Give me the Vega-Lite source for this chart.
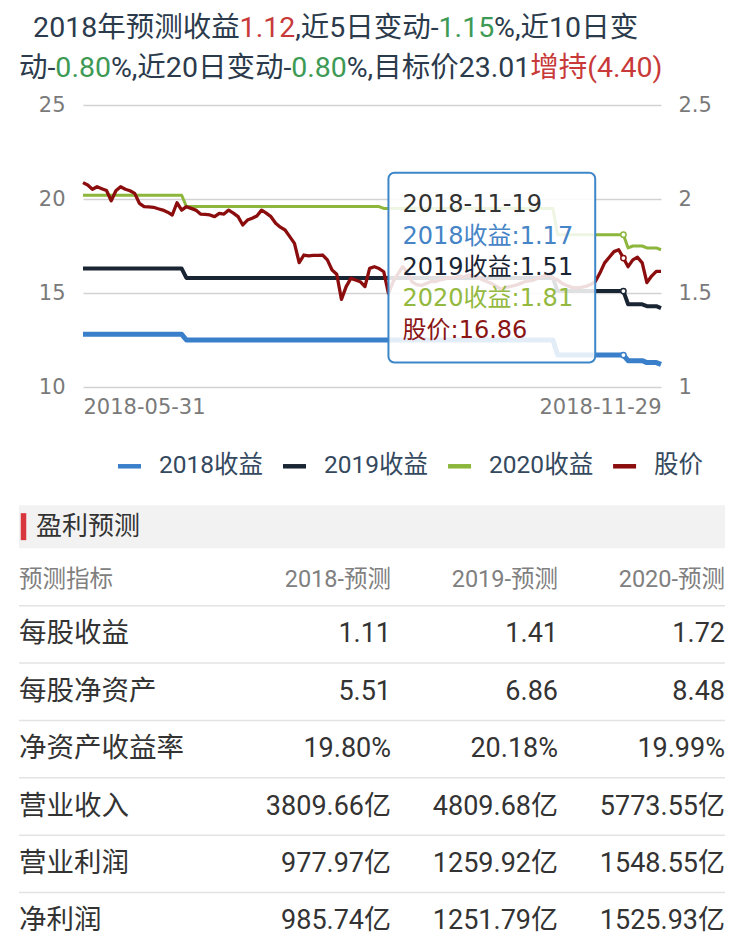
{
  "$schema": "https://vega.github.io/schema/vega-lite/v6.json",
  "background": "white",
  "padding": {"left": 18, "top": 0, "right": 0, "bottom": 0},
  "autosize": {"type": "pad"},
  "config": {
    "view": {"stroke": null},
    "axis": {"labelFont": "DejaVu Sans", "labelFontSize": 21, "labelColor": "#7a7a7a", "domain": false, "ticks": false, "tickSize": 0, "title": null}
  },
  "datasets": {
    "series": [
      {"d":"2018-05-31","股价":20.87,"2018收益":1.28,"2019收益":1.63,"2020收益":2.02},
      {"d":"2018-06-01","股价":20.74,"2018收益":1.28,"2019收益":1.63,"2020收益":2.02},
      {"d":"2018-06-04","股价":20.52,"2018收益":1.28,"2019收益":1.63,"2020收益":2.02},
      {"d":"2018-06-05","股价":20.65,"2018收益":1.28,"2019收益":1.63,"2020收益":2.02},
      {"d":"2018-06-06","股价":20.55,"2018收益":1.28,"2019收益":1.63,"2020收益":2.02},
      {"d":"2018-06-07","股价":20.45,"2018收益":1.28,"2019收益":1.63,"2020收益":2.02},
      {"d":"2018-06-08","股价":19.91,"2018收益":1.28,"2019收益":1.63,"2020收益":2.02},
      {"d":"2018-06-11","股价":20.44,"2018收益":1.28,"2019收益":1.63,"2020收益":2.02},
      {"d":"2018-06-12","股价":20.65,"2018收益":1.28,"2019收益":1.63,"2020收益":2.02},
      {"d":"2018-06-13","股价":20.52,"2018收益":1.28,"2019收益":1.63,"2020收益":2.02},
      {"d":"2018-06-14","股价":20.44,"2018收益":1.28,"2019收益":1.63,"2020收益":2.02},
      {"d":"2018-06-15","股价":20.30,"2018收益":1.28,"2019收益":1.63,"2020收益":2.02},
      {"d":"2018-06-19","股价":19.77,"2018收益":1.28,"2019收益":1.63,"2020收益":2.02},
      {"d":"2018-06-20","股价":19.59,"2018收益":1.28,"2019收益":1.63,"2020收益":2.02},
      {"d":"2018-06-21","股价":19.58,"2018收益":1.28,"2019收益":1.63,"2020收益":2.02},
      {"d":"2018-06-22","股价":19.56,"2018收益":1.28,"2019收益":1.63,"2020收益":2.02},
      {"d":"2018-06-25","股价":19.48,"2018收益":1.28,"2019收益":1.63,"2020收益":2.02},
      {"d":"2018-06-26","股价":19.41,"2018收益":1.28,"2019收益":1.63,"2020收益":2.02},
      {"d":"2018-06-27","股价":19.30,"2018收益":1.28,"2019收益":1.63,"2020收益":2.02},
      {"d":"2018-06-28","股价":19.15,"2018收益":1.28,"2019收益":1.63,"2020收益":2.02},
      {"d":"2018-06-29","股价":19.80,"2018收益":1.28,"2019收益":1.63,"2020收益":2.02},
      {"d":"2018-07-02","股价":19.41,"2018收益":1.28,"2019收益":1.63,"2020收益":2.02},
      {"d":"2018-07-03","股价":19.59,"2018收益":1.25,"2019收益":1.58,"2020收益":1.96},
      {"d":"2018-07-04","股价":19.50,"2018收益":1.25,"2019收益":1.58,"2020收益":1.96},
      {"d":"2018-07-05","股价":19.41,"2018收益":1.25,"2019收益":1.58,"2020收益":1.96},
      {"d":"2018-07-06","股价":19.20,"2018收益":1.25,"2019收益":1.58,"2020收益":1.96},
      {"d":"2018-07-09","股价":19.18,"2018收益":1.25,"2019收益":1.58,"2020收益":1.96},
      {"d":"2018-07-10","股价":19.15,"2018收益":1.25,"2019收益":1.58,"2020收益":1.96},
      {"d":"2018-07-11","股价":19.06,"2018收益":1.25,"2019收益":1.58,"2020收益":1.96},
      {"d":"2018-07-12","股价":19.24,"2018收益":1.25,"2019收益":1.58,"2020收益":1.96},
      {"d":"2018-07-13","股价":19.20,"2018收益":1.25,"2019收益":1.58,"2020收益":1.96},
      {"d":"2018-07-16","股价":19.41,"2018收益":1.25,"2019收益":1.58,"2020收益":1.96},
      {"d":"2018-07-17","股价":19.25,"2018收益":1.25,"2019收益":1.58,"2020收益":1.96},
      {"d":"2018-07-18","股价":19.06,"2018收益":1.25,"2019收益":1.58,"2020收益":1.96},
      {"d":"2018-07-19","股价":18.62,"2018收益":1.25,"2019收益":1.58,"2020收益":1.96},
      {"d":"2018-07-20","股价":18.88,"2018收益":1.25,"2019收益":1.58,"2020收益":1.96},
      {"d":"2018-07-23","股价":18.98,"2018收益":1.25,"2019收益":1.58,"2020收益":1.96},
      {"d":"2018-07-24","股价":19.10,"2018收益":1.25,"2019收益":1.58,"2020收益":1.96},
      {"d":"2018-07-25","股价":19.41,"2018收益":1.25,"2019收益":1.58,"2020收益":1.96},
      {"d":"2018-07-26","股价":19.25,"2018收益":1.25,"2019收益":1.58,"2020收益":1.96},
      {"d":"2018-07-27","股价":19.06,"2018收益":1.25,"2019收益":1.58,"2020收益":1.96},
      {"d":"2018-07-30","股价":18.71,"2018收益":1.25,"2019收益":1.58,"2020收益":1.96},
      {"d":"2018-07-31","股价":18.50,"2018收益":1.25,"2019收益":1.58,"2020收益":1.96},
      {"d":"2018-08-01","股价":18.35,"2018收益":1.25,"2019收益":1.58,"2020收益":1.96},
      {"d":"2018-08-02","股价":18.00,"2018收益":1.25,"2019收益":1.58,"2020收益":1.96},
      {"d":"2018-08-03","股价":17.64,"2018收益":1.25,"2019收益":1.58,"2020收益":1.96},
      {"d":"2018-08-06","股价":16.62,"2018收益":1.25,"2019收益":1.58,"2020收益":1.96},
      {"d":"2018-08-07","股价":17.02,"2018收益":1.25,"2019收益":1.58,"2020收益":1.96},
      {"d":"2018-08-08","股价":16.97,"2018收益":1.25,"2019收益":1.58,"2020收益":1.96},
      {"d":"2018-08-09","股价":17.00,"2018收益":1.25,"2019收益":1.58,"2020收益":1.96},
      {"d":"2018-08-10","股价":17.00,"2018收益":1.25,"2019收益":1.58,"2020收益":1.96},
      {"d":"2018-08-13","股价":17.02,"2018收益":1.25,"2019收益":1.58,"2020收益":1.96},
      {"d":"2018-08-14","股价":16.76,"2018收益":1.25,"2019收益":1.58,"2020收益":1.96},
      {"d":"2018-08-15","股价":16.22,"2018收益":1.25,"2019收益":1.58,"2020收益":1.96},
      {"d":"2018-08-16","股价":16.00,"2018收益":1.25,"2019收益":1.58,"2020收益":1.96},
      {"d":"2018-08-17","股价":14.66,"2018收益":1.25,"2019收益":1.58,"2020收益":1.96},
      {"d":"2018-08-20","股价":15.34,"2018收益":1.25,"2019收益":1.58,"2020收益":1.96},
      {"d":"2018-08-21","股价":15.78,"2018收益":1.25,"2019收益":1.58,"2020收益":1.96},
      {"d":"2018-08-22","股价":15.69,"2018收益":1.25,"2019收益":1.58,"2020收益":1.96},
      {"d":"2018-08-23","股价":15.60,"2018收益":1.25,"2019收益":1.58,"2020收益":1.96},
      {"d":"2018-08-24","股价":15.34,"2018收益":1.25,"2019收益":1.58,"2020收益":1.96},
      {"d":"2018-08-27","股价":16.31,"2018收益":1.25,"2019收益":1.58,"2020收益":1.96},
      {"d":"2018-08-28","股价":16.40,"2018收益":1.25,"2019收益":1.58,"2020收益":1.96},
      {"d":"2018-08-29","股价":16.30,"2018收益":1.25,"2019收益":1.58,"2020收益":1.96},
      {"d":"2018-08-30","股价":16.13,"2018收益":1.25,"2019收益":1.58,"2020收益":1.95},
      {"d":"2018-08-31","股价":14.98,"2018收益":1.25,"2019收益":1.58,"2020收益":1.95},
      {"d":"2018-09-03","股价":15.60,"2018收益":1.25,"2019收益":1.58,"2020收益":1.95},
      {"d":"2018-09-04","股价":16.00,"2018收益":1.25,"2019收益":1.58,"2020收益":1.95},
      {"d":"2018-09-05","股价":16.40,"2018收益":1.25,"2019收益":1.58,"2020收益":1.95},
      {"d":"2018-09-06","股价":16.10,"2018收益":1.25,"2019收益":1.58,"2020收益":1.95},
      {"d":"2018-09-07","股价":15.60,"2018收益":1.25,"2019收益":1.58,"2020收益":1.95},
      {"d":"2018-09-10","股价":15.45,"2018收益":1.25,"2019收益":1.58,"2020收益":1.95},
      {"d":"2018-09-11","股价":15.40,"2018收益":1.25,"2019收益":1.58,"2020收益":1.95},
      {"d":"2018-09-12","股价":15.50,"2018收益":1.25,"2019收益":1.58,"2020收益":1.95},
      {"d":"2018-09-13","股价":15.60,"2018收益":1.25,"2019收益":1.58,"2020收益":1.95},
      {"d":"2018-09-14","股价":15.60,"2018收益":1.25,"2019收益":1.58,"2020收益":1.95},
      {"d":"2018-09-17","股价":15.70,"2018收益":1.25,"2019收益":1.58,"2020收益":1.95},
      {"d":"2018-09-18","股价":15.75,"2018收益":1.25,"2019收益":1.58,"2020收益":1.95},
      {"d":"2018-09-19","股价":15.80,"2018收益":1.25,"2019收益":1.58,"2020收益":1.95},
      {"d":"2018-09-20","股价":15.80,"2018收益":1.25,"2019收益":1.58,"2020收益":1.95},
      {"d":"2018-09-21","股价":15.90,"2018收益":1.25,"2019收益":1.58,"2020收益":1.95},
      {"d":"2018-09-25","股价":15.85,"2018收益":1.25,"2019收益":1.58,"2020收益":1.95},
      {"d":"2018-09-26","股价":15.95,"2018收益":1.25,"2019收益":1.58,"2020收益":1.95},
      {"d":"2018-09-27","股价":15.90,"2018收益":1.25,"2019收益":1.58,"2020收益":1.95},
      {"d":"2018-09-28","股价":15.85,"2018收益":1.25,"2019收益":1.58,"2020收益":1.95},
      {"d":"2018-10-08","股价":15.70,"2018收益":1.25,"2019收益":1.58,"2020收益":1.95},
      {"d":"2018-10-09","股价":15.60,"2018收益":1.25,"2019收益":1.58,"2020收益":1.95},
      {"d":"2018-10-10","股价":15.50,"2018收益":1.25,"2019收益":1.58,"2020收益":1.95},
      {"d":"2018-10-11","股价":15.35,"2018收益":1.25,"2019收益":1.58,"2020收益":1.95},
      {"d":"2018-10-12","股价":15.20,"2018收益":1.25,"2019收益":1.58,"2020收益":1.95},
      {"d":"2018-10-15","股价":15.30,"2018收益":1.25,"2019收益":1.58,"2020收益":1.95},
      {"d":"2018-10-16","股价":15.35,"2018收益":1.25,"2019收益":1.58,"2020收益":1.95},
      {"d":"2018-10-17","股价":15.40,"2018收益":1.25,"2019收益":1.58,"2020收益":1.95},
      {"d":"2018-10-18","股价":15.50,"2018收益":1.25,"2019收益":1.58,"2020收益":1.95},
      {"d":"2018-10-19","股价":15.60,"2018收益":1.25,"2019收益":1.58,"2020收益":1.95},
      {"d":"2018-10-22","股价":15.65,"2018收益":1.25,"2019收益":1.58,"2020收益":1.95},
      {"d":"2018-10-23","股价":15.70,"2018收益":1.25,"2019收益":1.58,"2020收益":1.95},
      {"d":"2018-10-24","股价":15.80,"2018收益":1.25,"2019收益":1.58,"2020收益":1.95},
      {"d":"2018-10-25","股价":15.90,"2018收益":1.25,"2019收益":1.58,"2020收益":1.95},
      {"d":"2018-10-26","股价":15.96,"2018收益":1.25,"2019收益":1.58,"2020收益":1.95},
      {"d":"2018-10-29","股价":15.80,"2018收益":1.25,"2019收益":1.58,"2020收益":1.95},
      {"d":"2018-10-30","股价":15.70,"2018收益":1.17,"2019收益":1.51,"2020收益":1.81},
      {"d":"2018-10-31","股价":15.50,"2018收益":1.17,"2019收益":1.51,"2020收益":1.81},
      {"d":"2018-11-01","股价":15.40,"2018收益":1.17,"2019收益":1.51,"2020收益":1.81},
      {"d":"2018-11-02","股价":15.30,"2018收益":1.17,"2019收益":1.51,"2020收益":1.81},
      {"d":"2018-11-05","股价":15.27,"2018收益":1.17,"2019收益":1.51,"2020收益":1.81},
      {"d":"2018-11-06","股价":15.30,"2018收益":1.17,"2019收益":1.51,"2020收益":1.81},
      {"d":"2018-11-07","股价":15.35,"2018收益":1.17,"2019收益":1.51,"2020收益":1.81},
      {"d":"2018-11-08","股价":15.45,"2018收益":1.17,"2019收益":1.51,"2020收益":1.81},
      {"d":"2018-11-09","股价":15.60,"2018收益":1.17,"2019收益":1.51,"2020收益":1.81},
      {"d":"2018-11-12","股价":16.06,"2018收益":1.17,"2019收益":1.51,"2020收益":1.81},
      {"d":"2018-11-13","股价":16.60,"2018收益":1.17,"2019收益":1.51,"2020收益":1.81},
      {"d":"2018-11-14","股价":16.90,"2018收益":1.17,"2019收益":1.51,"2020收益":1.81},
      {"d":"2018-11-15","股价":17.20,"2018收益":1.17,"2019收益":1.51,"2020收益":1.81},
      {"d":"2018-11-16","股价":17.30,"2018收益":1.17,"2019收益":1.51,"2020收益":1.81},
      {"d":"2018-11-19","股价":16.86,"2018收益":1.17,"2019收益":1.51,"2020收益":1.81},
      {"d":"2018-11-20","股价":16.40,"2018收益":1.14,"2019收益":1.44,"2020收益":1.74},
      {"d":"2018-11-21","股价":16.76,"2018收益":1.14,"2019收益":1.44,"2020收益":1.75},
      {"d":"2018-11-22","股价":16.90,"2018收益":1.14,"2019收益":1.44,"2020收益":1.75},
      {"d":"2018-11-23","股价":16.60,"2018收益":1.14,"2019收益":1.44,"2020收益":1.75},
      {"d":"2018-11-26","股价":15.55,"2018收益":1.13,"2019收益":1.43,"2020收益":1.74},
      {"d":"2018-11-27","股价":15.90,"2018收益":1.13,"2019收益":1.43,"2020收益":1.74},
      {"d":"2018-11-28","股价":16.15,"2018收益":1.13,"2019收益":1.43,"2020收益":1.74},
      {"d":"2018-11-29","股价":16.15,"2018收益":1.12,"2019收益":1.42,"2020收益":1.73}
    ],
    "tip": [
      {"项": "日期", "文字": "2018-11-19"},
      {"项": "2018收益", "文字": "2018收益:1.17"},
      {"项": "2019收益", "文字": "2019收益:1.51"},
      {"项": "2020收益", "文字": "2020收益:1.81"},
      {"项": "股价", "文字": "股价:16.86"}
    ],
    "title": [
      {"行": 1, "序": 0, "色": "正文", "文字": "\u00a0\u00a0"},
      {"行": 1, "序": 1, "色": "正文", "文字": "2018年预测收益"},
      {"行": 1, "序": 2, "色": "涨", "文字": "1.12"},
      {"行": 1, "序": 3, "色": "正文", "文字": ",近5日变动-"},
      {"行": 1, "序": 4, "色": "跌", "文字": "1.15"},
      {"行": 1, "序": 5, "色": "正文", "文字": "%,近10日变"},
      {"行": 2, "序": 1, "色": "正文", "文字": "动-"},
      {"行": 2, "序": 2, "色": "跌", "文字": "0.80"},
      {"行": 2, "序": 3, "色": "正文", "文字": "%,近20日变动-"},
      {"行": 2, "序": 4, "色": "跌", "文字": "0.80"},
      {"行": 2, "序": 5, "色": "正文", "文字": "%,目标价23.01"},
      {"行": 2, "序": 6, "色": "涨", "文字": "增持(4.40)"}
    ],
    "legend": [{"系列": "2018收益"}, {"系列": "2019收益"}, {"系列": "2020收益"}, {"系列": "股价"}],
    "sec": [{"节": "盈利预测"}],
    "table": [
      {"预测指标": "每股收益", "2018-预测": "1.11", "2019-预测": "1.41", "2020-预测": "1.72"},
      {"预测指标": "每股净资产", "2018-预测": "5.51", "2019-预测": "6.86", "2020-预测": "8.48"},
      {"预测指标": "净资产收益率", "2018-预测": "19.80%", "2019-预测": "20.18%", "2020-预测": "19.99%"},
      {"预测指标": "营业收入", "2018-预测": "3809.66亿", "2019-预测": "4809.68亿", "2020-预测": "5773.55亿"},
      {"预测指标": "营业利润", "2018-预测": "977.97亿", "2019-预测": "1259.92亿", "2020-预测": "1548.55亿"},
      {"预测指标": "净利润", "2018-预测": "985.74亿", "2019-预测": "1251.79亿", "2020-预测": "1525.93亿"}
    ],
    "hdr": [{"列": "预测指标"}, {"列": "2018-预测"}, {"列": "2019-预测"}, {"列": "2020-预测"}]
  },
  "spacing": 0,
  "bounds": "flush",
  "center": true,
  "vconcat": [
    {
      "width": 706, "height": 105,
      "data": {"name": "title"},
      "transform": [
        {"calculate": "length(datum['文字'])", "as": "n"},
        {"calculate": "datum.n - length(replace(datum['文字'], regexp('[0-9]','g'), ''))", "as": "数字"},
        {"calculate": "datum.n - length(replace(datum['文字'], regexp('[.]','g'), ''))", "as": "点"},
        {"calculate": "datum.n - length(replace(datum['文字'], regexp('[,]','g'), ''))", "as": "逗"},
        {"calculate": "datum.n - length(replace(datum['文字'], regexp('[%]','g'), ''))", "as": "百"},
        {"calculate": "datum.n - length(replace(datum['文字'], regexp('[-]','g'), ''))", "as": "横"},
        {"calculate": "datum.n - length(replace(datum['文字'], regexp('[()]','g'), ''))", "as": "括"},
        {"calculate": "datum.n - length(replace(datum['文字'], regexp('[\u00a0]','g'), ''))", "as": "空"},
        {"calculate": "datum['数字']*0.5615 + datum['点']*0.2634 + datum['逗']*0.1963 + datum['百']*0.7319 + datum['横']*0.2759 + datum['括']*0.345 + datum['空']*0.2476 + (datum.n - datum['数字'] - datum['点'] - datum['逗'] - datum['百'] - datum['横'] - datum['括'] - datum['空'])", "as": "宽"},
        {"window": [{"op": "sum", "field": "宽", "as": "累计"}], "groupby": ["行"], "sort": [{"field": "序", "order": "ascending"}], "frame": [null, 0]},
        {"calculate": "datum['累计'] - datum['宽']", "as": "起点"}
      ],
      "mark": {"type": "text", "align": "left", "baseline": "middle", "font": "Roboto, 'Noto Sans CJK SC'", "fontSize": 28.5},
      "encoding": {
        "x": {"field": "起点", "type": "quantitative", "scale": {"domain": [0, 24.7719], "nice": false, "zero": false}, "axis": null},
        "y": {"field": "行", "type": "ordinal", "scale": {"type": "band", "paddingInner": 0, "paddingOuter": 0.3125, "align": 0.32}, "axis": null},
        "text": {"field": "文字"},
        "color": {"condition": [{"test": "datum['色'] == '涨'", "value": "#c83a3a"}, {"test": "datum['色'] == '跌'", "value": "#3d9a55"}], "value": "#2c3b4c"}
      }
    },
    {
      "width": 578, "height": 282,
      "data": {"name": "series"},
      "encoding": {
        "x": {"field": "d", "type": "ordinal", "scale": {"type": "point", "padding": 0},
              "axis": {"values": ["2018-05-31", "2018-11-29"], "labelAngle": 0, "labelPadding": 9, "grid": false,
                       "labelAlign": {"condition": {"test": "datum.value == '2018-05-31'", "value": "left"}, "value": "right"}}}
      },
      "resolve": {"scale": {"y": "independent"}},
      "layer": [
        {
          "transform": [{"fold": ["2018收益", "2019收益", "2020收益"], "as": ["系列", "收益"]}],
          "encoding": {
            "y": {"field": "收益", "type": "quantitative", "scale": {"domain": [1, 2.5], "nice": false, "zero": false},
                  "axis": {"orient": "right", "values": [1, 1.5, 2, 2.5], "format": ".1~f", "grid": false, "labelPadding": 17}}
          },
          "layer": [
            {
              "mark": {"type": "line", "strokeJoin": "round"},
              "encoding": {
                "color": {"field": "系列", "type": "nominal",
                          "scale": {"domain": ["2018收益", "2019收益", "2020收益", "股价"], "range": ["#3a7fc9", "#1a2533", "#8cb63c", "#8b0d0d"]},
                          "legend": null},
                "strokeWidth": {"field": "系列", "type": "nominal", "scale": {"domain": ["2018收益", "2019收益", "2020收益"], "range": [5, 3, 4]}, "legend": null}
              }
            },
            {
              "transform": [{"filter": "datum.d == '2018-11-19'"}],
              "mark": {"type": "point", "filled": true, "fill": "white", "size": 28, "strokeWidth": 1.5, "opacity": 1},
              "encoding": {
                "stroke": {"field": "系列", "type": "nominal", "scale": {"domain": ["2018收益", "2019收益", "2020收益"], "range": ["#3a7fc9", "#1a2533", "#8cb63c"]}, "legend": null}
              }
            }
          ]
        },
        {
          "encoding": {
            "y": {"field": "股价", "type": "quantitative", "scale": {"domain": [10, 25], "nice": false, "zero": false},
                  "axis": {"orient": "left", "values": [10, 15, 20, 25], "grid": true, "gridColor": "#d2d2d2", "gridWidth": 1.5, "labelPadding": 18}}
          },
          "layer": [
            {"mark": {"type": "line", "strokeWidth": 3.3, "strokeJoin": "round"}, "encoding": {"color": {"datum": "股价", "legend": null}}},
            {
              "transform": [{"filter": "datum.d == '2018-11-19'"}],
              "mark": {"type": "point", "filled": true, "fill": "white", "size": 28, "strokeWidth": 1.5, "stroke": "#8b0d0d", "opacity": 1}
            }
          ]
        },
        {
          "data": {"name": "tip"},
          "resolve": {"scale": {"y": "independent"}},
          "layer": [
            {
              "transform": [{"filter": "datum['项'] == '日期'"}],
              "mark": {"type": "rect", "fill": "white", "fillOpacity": 0.86, "stroke": "#3d86c8", "strokeWidth": 2, "cornerRadius": 6},
              "encoding": {
                "x": {"datum": "2018-08-31", "type": "ordinal", "scale": {"type": "point", "padding": 0}},
                "x2": {"datum": "2018-11-09"},
                "y": {"datum": 21.4, "type": "quantitative", "scale": {"domain": [10, 25], "nice": false, "zero": false}, "axis": null},
                "y2": {"datum": 11.3}
              }
            },
            {
              "transform": [{"window": [{"op": "row_number", "as": "行号"}]}],
              "mark": {"type": "text", "align": "left", "baseline": "middle", "font": "'DejaVu Sans', 'Noto Sans CJK SC'", "fontSize": 24},
              "encoding": {
                "x": {"datum": "2018-09-05", "type": "ordinal", "scale": {"type": "point", "padding": 0}},
                "y": {"field": "行号", "type": "quantitative", "scale": {"domain": [-2.175, 6.778], "reverse": true, "nice": false, "zero": false}, "axis": null},
                "text": {"field": "文字"},
                "color": {"condition": [
                  {"test": "datum['项'] == '2018收益'", "value": "#4584c6"},
                  {"test": "datum['项'] == '2019收益'", "value": "#1a2533"},
                  {"test": "datum['项'] == '2020收益'", "value": "#94b93f"},
                  {"test": "datum['项'] == '股价'", "value": "#8b1515"}], "value": "#333333"}
              }
            }
          ]
        }
      ]
    },
    {
      "width": 706, "height": 563,
      "resolve": {"scale": {"x": "independent"}},
      "encoding": {
        "y": {"field": "预测指标", "type": "nominal",
              "scale": {"type": "band", "domain": ["图例", "盈利预测", "预测指标", "每股收益", "每股净资产", "净资产收益率", "营业收入", "营业利润", "净利润"], "paddingInner": 0, "paddingOuter": 0.406, "align": 1},
              "axis": null}
      },
      "layer": [
        {
          "data": {"name": "legend"},
          "transform": [
            {"window": [{"op": "row_number", "as": "号"}]},
            {"calculate": "length(datum['系列'])", "as": "n"},
            {"calculate": "datum.n - length(replace(datum['系列'], regexp('[0-9]','g'), ''))", "as": "数字"},
            {"calculate": "(datum['数字']*0.5615 + (datum.n - datum['数字']))*24.5", "as": "字宽"},
            {"calculate": "23 + 18 + datum['字宽'] + 20", "as": "宽"},
            {"window": [{"op": "sum", "field": "宽", "as": "累计"}], "sort": [{"field": "号", "order": "ascending"}], "frame": [null, 0]},
            {"calculate": "datum['累计'] - datum['宽']", "as": "起点"},
            {"calculate": "datum['起点'] + 23", "as": "终点"},
            {"calculate": "datum['起点'] + 41", "as": "字起"}
          ],
          "layer": [
            {
              "mark": {"type": "rule", "strokeWidth": 4.5, "strokeCap": "butt", "yOffset": 4},
              "encoding": {
                "x": {"field": "起点", "type": "quantitative", "scale": {"domain": [-99, 607], "nice": false, "zero": false}, "axis": null},
                "x2": {"field": "终点"},
                "y": {"datum": "图例", "type": "nominal"},
                "color": {"field": "系列", "type": "nominal",
                          "scale": {"domain": ["2018收益", "2019收益", "2020收益", "股价"], "range": ["#3a7fc9", "#1a2533", "#8cb63c", "#8b0d0d"]},
                          "legend": null}
              }
            },
            {
              "mark": {"type": "text", "align": "left", "baseline": "middle", "font": "Roboto, 'Noto Sans CJK SC'", "fontSize": 24.5, "color": "#34495e", "dy": 4},
              "encoding": {
                "x": {"field": "字起", "type": "quantitative", "scale": {"domain": [-99, 607], "nice": false, "zero": false}, "axis": null},
                "y": {"datum": "图例", "type": "nominal"},
                "text": {"field": "系列"}
              }
            }
          ]
        },
        {
          "data": {"name": "sec"},
          "mark": {"type": "bar", "color": "#f2f2f2", "height": {"band": 0.75}, "yOffset": 7},
          "encoding": {"y": {"field": "节", "type": "nominal"}}
        },
        {
          "data": {"name": "sec"},
          "mark": {"type": "tick", "color": "#d8373d", "opacity": 1, "thickness": 5.5, "xOffset": 4.5, "yOffset": 7},
          "encoding": {
            "x": {"datum": 0, "type": "quantitative", "scale": {"domain": [0, 706], "nice": false, "zero": false}, "axis": null},
            "y": {"field": "节", "type": "nominal"},
            "size": {"value": 27}
          }
        },
        {
          "data": {"name": "sec"},
          "mark": {"type": "text", "align": "left", "baseline": "middle", "font": "'Noto Sans CJK SC'", "fontSize": 26, "color": "#333333", "dx": 17, "dy": 7},
          "encoding": {
            "x": {"datum": 0, "type": "quantitative", "scale": {"domain": [0, 706], "nice": false, "zero": false}, "axis": null},
            "y": {"field": "节", "type": "nominal"},
            "text": {"field": "节"}
          }
        },
        {
          "data": {"name": "table"},
          "mark": {"type": "rule", "color": "#e3e3e3", "strokeWidth": 1.5},
          "encoding": {"y": {"field": "预测指标", "type": "nominal", "bandPosition": 0}}
        },
        {
          "data": {"name": "table"},
          "transform": [{"fold": ["预测指标", "2018-预测", "2019-预测", "2020-预测"], "as": ["列", "值"]}, {"filter": "datum['列'] == '预测指标'"}],
          "mark": {"type": "text", "align": "left", "baseline": "middle", "font": "'Noto Sans CJK SC'", "fontSize": 27.5, "color": "#333333"},
          "encoding": {
            "x": {"field": "列", "type": "nominal", "scale": {"type": "point", "domain": ["预测指标"], "padding": 0, "align": 0}, "axis": null},
            "text": {"field": "值"}
          }
        },
        {
          "data": {"name": "table"},
          "transform": [{"fold": ["预测指标", "2018-预测", "2019-预测", "2020-预测"], "as": ["列", "值"]}, {"filter": "datum['列'] != '预测指标'"}],
          "mark": {"type": "text", "align": "right", "baseline": "middle", "font": "Roboto, 'Noto Sans CJK SC'", "fontSize": 27, "color": "#333333"},
          "encoding": {
            "x": {"field": "列", "type": "nominal", "bandPosition": 1,
                  "scale": {"type": "band", "domain": ["2018-预测", "2019-预测", "2020-预测"], "paddingInner": 0, "paddingOuter": 0.614, "align": 1}, "axis": null},
            "text": {"field": "值"}
          }
        },
        {
          "data": {"name": "hdr"},
          "transform": [{"filter": "datum['列'] == '预测指标'"}],
          "mark": {"type": "text", "align": "left", "baseline": "middle", "font": "Roboto, 'Noto Sans CJK SC'", "fontSize": 23.5, "color": "#808080", "dy": 3},
          "encoding": {
            "x": {"field": "列", "type": "nominal", "scale": {"type": "point", "domain": ["预测指标"], "padding": 0, "align": 0}, "axis": null},
            "y": {"datum": "预测指标", "type": "nominal"},
            "text": {"field": "列"}
          }
        },
        {
          "data": {"name": "hdr"},
          "transform": [{"filter": "datum['列'] != '预测指标'"}],
          "mark": {"type": "text", "align": "right", "baseline": "middle", "font": "Roboto, 'Noto Sans CJK SC'", "fontSize": 23.5, "color": "#808080", "dy": 3},
          "encoding": {
            "x": {"field": "列", "type": "nominal", "bandPosition": 1,
                  "scale": {"type": "band", "domain": ["2018-预测", "2019-预测", "2020-预测"], "paddingInner": 0, "paddingOuter": 0.614, "align": 1}, "axis": null},
            "y": {"datum": "预测指标", "type": "nominal"},
            "text": {"field": "列"}
          }
        }
      ]
    }
  ]
}
